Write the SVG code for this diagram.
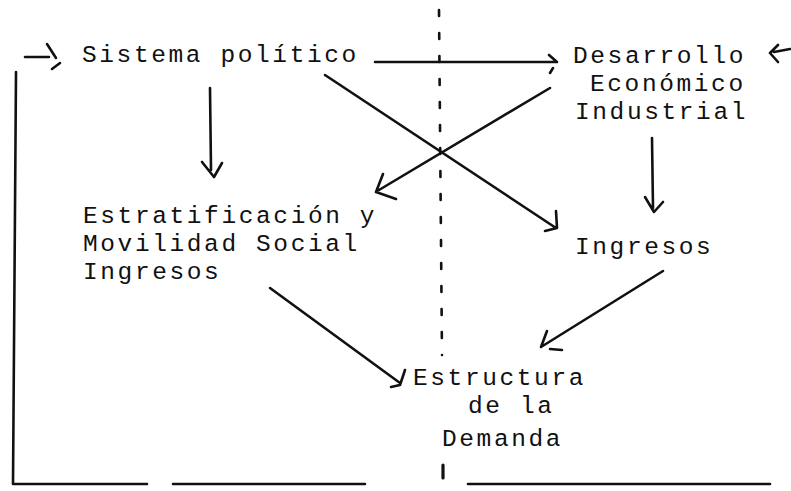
<svg xmlns="http://www.w3.org/2000/svg" width="791" height="491" viewBox="0 0 791 491">
<style>
text{font-family:"Liberation Mono","DejaVu Sans Mono",monospace;font-size:24.5px;letter-spacing:2.6px;fill:#111}
.ln{fill:none;stroke:#111;stroke-width:2.6;stroke-linecap:round;stroke-linejoin:round}
.dot{fill:none;stroke:#111;stroke-width:2.6;stroke-linecap:round;stroke-dasharray:6 17}
</style>
<rect width="791" height="491" fill="#fff"/>
<g id="divider"><path class="dot" d="M439,10 L442,355"/><path class="ln" d="M443,465 L443,478" style="stroke-width:3.2"/></g>
<g id="node-sistema"><text x="82" y="62">Sistema político</text></g>
<g id="node-desarrollo"><text x="573" y="63">Desarrollo</text><text x="590" y="91">Económico</text><text x="575" y="119">Industrial</text></g>
<g id="node-estratificacion"><text x="83" y="223">Estratificación y</text><text x="83" y="251">Movilidad Social</text><text x="83" y="279">Ingresos</text></g>
<g id="node-ingresos"><text x="575" y="254">Ingresos</text></g>
<g id="node-estructura"><text x="413" y="385">Estructura</text><text x="468" y="413">de la</text><text x="442" y="446">Demanda</text></g>
<g id="connectors">
<path class="ln" d="M25,57 L49,57 M47,44 L56,58 M52,69 L60,63"/>
<path class="ln" d="M16,72 L13,484 L147,484 M173,484 L365,484"/>
<path class="ln" d="M468,484 L770,484"/>
<path class="ln" d="M790,49 L774,52 M778,45 L770,53 L778,62"/>
<path class="ln" d="M375,62 L557,62 M549,55 L557,62 M553,68 L550,73"/>
<path class="ln" d="M325,75 L556,228 M556,211 L557,228 L545,231"/>
<path class="ln" d="M550,88 L379,190 M383,174 L376,192 L396,199"/>
<path class="ln" d="M210,88 L211,170 M202,162 L214,177 L222,163"/>
<path class="ln" d="M652,138 L653,208 M645,197 L654,212 L663,202"/>
<path class="ln" d="M270,288 L400,383 M405,370 L400,385 L391,387"/>
<path class="ln" d="M663,271 L541,347 M547,331 L541,347 M550,349 L562,350"/>
</g>
</svg>
